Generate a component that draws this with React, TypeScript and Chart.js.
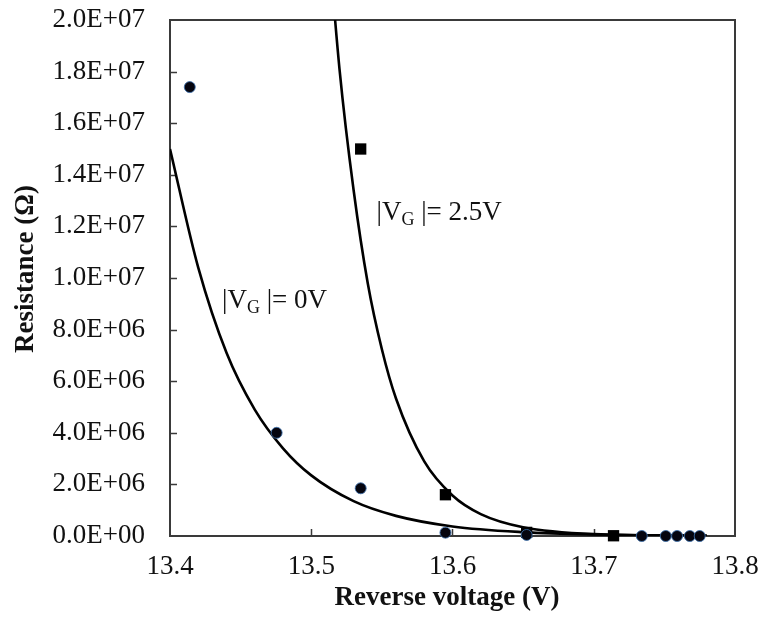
import { useEffect, useRef } from "react";
import { Chart, registerables } from "chart.js";

Chart.register(...registerables);

const FONT = '"Liberation Serif", "Times New Roman", serif';

// Axis ticks
const xTicks = [13.4, 13.5, 13.6, 13.7, 13.8];
const yTicks = [0, 2e6, 4e6, 6e6, 8e6, 1e7, 1.2e7, 1.4e7, 1.6e7, 1.8e7, 2e7];

// Measured points, |VG| = 0 V (circles)
const vg0Voltage = [13.414, 13.4755, 13.535, 13.595, 13.6525, 13.734, 13.751, 13.759, 13.768, 13.775];
const vg0Resistance = [1.74e7, 4.0e6, 1.85e6, 1.3e5, 4e4, 0, 0, 0, 0, 0];

// Measured points, |VG| = 2.5 V (squares)
const vg25Voltage = [13.535, 13.595, 13.6525, 13.714];
const vg25Resistance = [1.5e7, 1.6e6, 1.4e5, 1e4];

// Exponential trend line, |VG| = 0 V
const fit0Voltage = [13.40, 13.42, 13.44, 13.46, 13.48, 13.50, 13.53, 13.56, 13.60, 13.65, 13.70, 13.78];
const fit0Resistance = [1.5e7, 1.04e7, 7.1e6, 4.9e6, 3.4e6, 2.35e6, 1.35e6, 7.8e5, 3.7e5, 1.5e5, 6e4, 1.5e4];

// Exponential trend line, |VG| = 2.5 V
const fit25Voltage = [13.51, 13.52, 13.53, 13.54, 13.55, 13.56, 13.58, 13.60, 13.62, 13.65, 13.70, 13.78];
const fit25Resistance = [2.46e7, 1.81e7, 1.34e7, 9.8e6, 7.24e6, 5.33e6, 2.89e6, 1.57e6, 8.5e5, 3.4e5, 7.3e4, 6e3];

const zip = (xs: number[], ys: number[]) => xs.map((x, i) => ({ x, y: ys[i] }));

function sci(v: number): string {
  if (v === 0) return "0.0E+00";
  const e = Math.floor(Math.log10(v) + 1e-9);
  const m = v / Math.pow(10, e);
  return m.toFixed(1) + "E+" + String(e).padStart(2, "0");
}

function drawVgLabel(ctx: CanvasRenderingContext2D, x: number, y: number, value: string) {
  ctx.textBaseline = "alphabetic";
  ctx.textAlign = "left";
  ctx.font = `27px ${FONT}`;
  ctx.fillText("|V", x, y);
  let cx = x + ctx.measureText("|V").width;
  ctx.font = `18px ${FONT}`;
  ctx.fillText("G", cx, y + 5);
  cx += ctx.measureText("G").width;
  ctx.font = `27px ${FONT}`;
  ctx.fillText(" |= " + value, cx, y);
}

const framePlugin = {
  id: "frame",
  beforeDatasetsDraw(chart: any) {
    const { ctx, chartArea, scales } = chart;
    const { left, right, top, bottom } = chartArea;
    ctx.save();
    ctx.strokeStyle = "#3a3a3a";
    ctx.lineWidth = 2;
    ctx.strokeRect(left, top, right - left, bottom - top);
    ctx.lineWidth = 1.5;
    ctx.beginPath();
    yTicks.slice(1, -1).forEach((v) => {
      const py = Math.round(scales.y.getPixelForValue(v)) + 0.5;
      ctx.moveTo(left, py);
      ctx.lineTo(left + 7, py);
    });
    xTicks.slice(1, -1).forEach((v) => {
      const px = Math.round(scales.x.getPixelForValue(v)) + 0.5;
      ctx.moveTo(px, bottom);
      ctx.lineTo(px, bottom - 7);
    });
    ctx.stroke();
    ctx.restore();
  },
  afterDraw(chart: any) {
    const { ctx, scales } = chart;
    ctx.save();
    ctx.fillStyle = "#111";
    // axis titles
    ctx.font = `bold 27px ${FONT}`;
    ctx.textAlign = "center";
    ctx.textBaseline = "middle";
    ctx.fillText("Reverse voltage (V)", 447, 598);
    ctx.save();
    ctx.translate(26, 269);
    ctx.rotate(-Math.PI / 2);
    ctx.fillText("Resistance (Ω)", 0, 0);
    ctx.restore();
    // curve labels
    drawVgLabel(ctx, scales.x.getPixelForValue(13.4368), scales.y.getPixelForValue(8.84e6), "0V");
    drawVgLabel(ctx, scales.x.getPixelForValue(13.5462), scales.y.getPixelForValue(1.225e7), "2.5V");
    ctx.restore();
  },
};

export default function App() {
  const canvasRef = useRef<HTMLCanvasElement | null>(null);

  useEffect(() => {
    document.body.style.margin = "0";
    const canvas = canvasRef.current;
    if (!canvas) return;
    const chart = new Chart(canvas, {
      type: "scatter",
      data: {
        datasets: [
          {
            label: "|VG| = 0V",
            data: zip(vg0Voltage, vg0Resistance),
            pointStyle: "circle",
            pointRadius: 5.5,
            backgroundColor: "#05050f",
            borderColor: "rgba(60,110,170,0.85)",
            borderWidth: 1,
            showLine: false,
            clip: false,
            order: 0,
          },
          {
            label: "|VG| = 2.5V",
            data: zip(vg25Voltage, vg25Resistance),
            pointStyle: "rect",
            pointRadius: 8,
            backgroundColor: "#000",
            borderColor: "#000",
            borderWidth: 0,
            showLine: false,
            clip: false,
            order: 0,
          },
          {
            label: "fit 0V",
            data: zip(fit0Voltage, fit0Resistance),
            showLine: true,
            pointRadius: 0,
            borderColor: "#000",
            borderWidth: 2.6,
            cubicInterpolationMode: "monotone",
            order: 1,
          },
          {
            label: "fit 2.5V",
            data: zip(fit25Voltage, fit25Resistance),
            showLine: true,
            pointRadius: 0,
            borderColor: "#000",
            borderWidth: 2.6,
            cubicInterpolationMode: "monotone",
            order: 1,
          },
        ],
      },
      options: {
        responsive: false,
        animation: false,
        devicePixelRatio: 1,
        layout: { padding: { top: 20, right: 26, left: 0, bottom: 0 } },
        plugins: { legend: { display: false }, tooltip: { enabled: false } },
        scales: {
          x: {
            type: "linear",
            min: 13.4,
            max: 13.8,
            afterBuildTicks: (s: any) => {
              s.ticks = xTicks.map((v) => ({ value: v }));
            },
            afterFit: (s: any) => {
              s.height = 91;
              s.paddingLeft = 0;
              s.paddingRight = 0;
              s.paddingTop = 0;
              s.paddingBottom = 0;
            },
            grid: { display: false, drawTicks: false },
            border: { display: false },
            ticks: {
              padding: 15,
              color: "#111",
              font: { family: FONT, size: 27 },
              maxRotation: 0,
              autoSkip: false,
              callback: (v: any) => Number(v).toFixed(1),
            },
          },
          y: {
            type: "linear",
            min: 0,
            max: 2e7,
            afterBuildTicks: (s: any) => {
              s.ticks = yTicks.map((v) => ({ value: v }));
            },
            afterFit: (s: any) => {
              s.width = 170;
              s.paddingLeft = 0;
              s.paddingRight = 0;
              s.paddingTop = 0;
              s.paddingBottom = 0;
            },
            grid: { display: false, drawTicks: false },
            border: { display: false },
            ticks: {
              padding: 25,
              color: "#111",
              font: { family: FONT, size: 27 },
              autoSkip: false,
              callback: (v: any) => sci(Number(v)),
            },
          },
        },
      },
      plugins: [framePlugin],
    } as any);
    return () => chart.destroy();
  }, []);

  return (
    <div style={{ position: "absolute", left: 0, top: 0, width: 761, height: 627, background: "#fff" }}>
      <canvas ref={canvasRef} width={761} height={627} style={{ width: 761, height: 627 }} />
    </div>
  );
}
